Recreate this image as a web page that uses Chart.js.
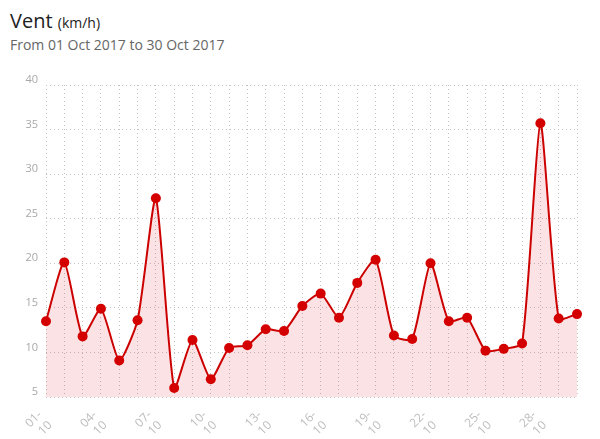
<!DOCTYPE html>
<html>
<head>
<meta charset="utf-8">
<script src="https://cdn.jsdelivr.net/npm/chart.js@4.4.0/dist/chart.umd.min.js"></script>
<style>
    body { margin: 0; background: #fff; font-family: "Open Sans", sans-serif; }
    .title { position: absolute; left: 10px; top: 7px; font-size: 20px; color: #222; }
    .title small { font-size: 14px; }
    .subtitle { position: absolute; left: 10px; top: 35px; font-size: 14px; color: #666; }
    .wrap { position: absolute; left: 0; top: 60px; width: 600px; height: 379px; }
</style>
</head>
<body>
<div class="title">Vent <small>(km/h)</small></div>
<div class="subtitle">From 01 Oct 2017 to 30 Oct 2017</div>
<div class="wrap"><canvas id="vent"></canvas></div>
<script>
var days = ['01', '02', '03', '04', '05', '06', '07', '08', '09', '10',
    '11', '12', '13', '14', '15', '16', '17', '18', '19', '20',
    '21', '22', '23', '24', '25', '26', '27', '28', '29', '30'];
var wind = [13.5, 20.1, 11.8, 14.9, 9.1, 13.6, 27.3, 6.0, 11.4, 7.0,
    10.5, 10.8, 12.6, 12.4, 15.2, 16.6, 13.9, 17.8, 20.4, 11.9,
    11.5, 20.0, 13.5, 13.9, 10.2, 10.4, 11.0, 35.7, 13.8, 14.3];
var yTicks = [5, 10, 15, 20, 25, 30, 35, 40];

var labels = days.map(function (d) { return [d + '-', '10']; });
var gridColor = '#c4c4c4';

var ventChart = new Chart(document.getElementById('vent'), {
    type: 'line',
    data: {
        labels: labels,
        datasets: [{
            label: 'Vent',
            data: wind,
            borderColor: '#cc0000',
            borderWidth: 2,
            backgroundColor: 'rgba(220, 0, 20, 0.11)',
            fill: 'start',
            tension: 0.2,
            pointRadius: 5,
            pointBackgroundColor: '#d40000',
            pointBorderColor: '#d40000',
            pointBorderWidth: 0
        }]
    },
    options: {
        responsive: true,
        maintainAspectRatio: false,
        animation: false,
        layout: { padding: { top: 25, right: 23, left: 0, bottom: 0 } },
        plugins: {
            legend: { display: false },
            tooltip: { enabled: false }
        },
        scales: {
            x: {
                offset: false,
                border: { display: false, dash: [1, 3] },
                grid: { color: gridColor, tickLength: 0 },
                ticks: {
                    autoSkip: false,
                    maxRotation: 45,
                    minRotation: 45,
                    color: '#bdbdbd',
                    font: { family: 'Open Sans', size: 12 },
                    padding: 11,
                    labelOffset: -6,
                    callback: function (value, index) {
                        return index % 3 === 0 ? labels[index] : '';
                    }
                },
                afterFit: function (axis) { axis.height = 42; }
            },
            y: {
                min: 5,
                max: 40,
                border: { display: false, dash: [1, 3] },
                grid: { color: gridColor, tickLength: 0 },
                afterBuildTicks: function (axis) {
                    axis.ticks = yTicks.map(function (v) { return { value: v }; });
                },
                ticks: {
                    color: '#a8a8a8',
                    font: { family: 'Open Sans', size: 11 },
                    padding: 8,
                    labelOffset: -5
                },
                afterFit: function (axis) { axis.width = 46; }
            }
        }
    }
});
</script>
</body>
</html>
